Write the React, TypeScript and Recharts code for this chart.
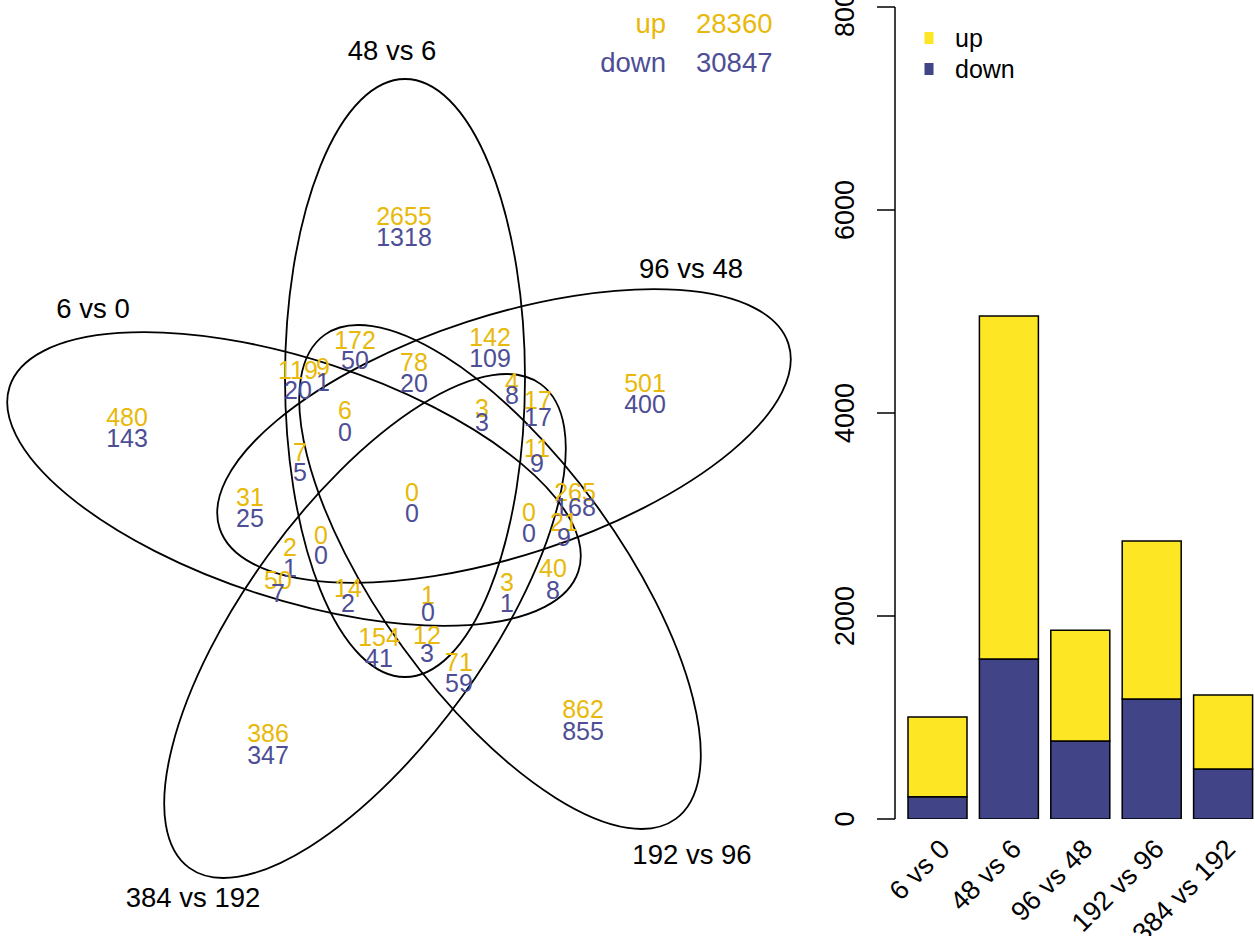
import { ScatterChart, Scatter, XAxis, YAxis, BarChart, Bar, Legend } from "recharts";

const FONT = "'Liberation Sans', Arial, Helvetica, sans-serif";
const GOLD = "#E8B90B";
const NAVY = "#4D4E95";
const BAR_UP = "#FDE725";
const BAR_DOWN = "#414487";

// bar chart values
const comparisons = ["6 vs 0", "48 vs 6", "96 vs 48", "192 vs 96", "384 vs 192"];
const upCounts = [785, 3380, 1091, 1557, 729];
const downCounts = [220, 1576, 768, 1182, 493];
const countTicks = [0, 2000, 4000, 6000, 8000];

// totals printed top right of the venn
const totalUp = 28360;
const totalDown = 30847;

// venn region counts (up / down), same order as regionPos below
const regionUp = [2655, 480, 501, 386, 862, 172, 78, 142, 119, 9, 4, 17, 6, 3, 7, 11, 0, 31, 265, 0, 21, 0, 2, 50, 14, 1, 3, 40, 154, 12, 71];
const regionDown = [1318, 143, 400, 347, 855, 50, 20, 109, 20, 1, 8, 17, 0, 3, 5, 9, 0, 25, 168, 0, 9, 0, 1, 7, 2, 0, 1, 8, 41, 3, 59];

// layout: [x, y of up label, y of down label]
const regionPos = [
  [404, 216, 237], [127, 417, 438], [645, 383, 404], [268, 733, 755], [583, 709, 731],
  [355, 340, 360], [414, 362, 383], [490, 337, 358], [298, 370, 390], [323, 367, 382],
  [512, 382, 395], [538, 400, 417], [345, 410, 432], [482, 408, 422], [300, 452, 472],
  [537, 448, 463], [412, 492, 513], [250, 497, 518], [575, 492, 507], [529, 512, 533],
  [564, 522, 537], [321, 535, 555], [290, 547, 568], [278, 580, 593], [348, 588, 603],
  [428, 595, 612], [507, 582, 603], [553, 568, 590], [379, 637, 658], [427, 635, 653],
  [459, 662, 683],
];

// layout: ellipse centre, rotation, and where the set name sits
const ellipseGeom: Record<string, { cx: number; cy: number; angle: number; lx: number; ly: number }> = {
  "6 vs 0": { cx: 294, cy: 479, angle: 18, lx: 93, ly: 308 },
  "48 vs 6": { cx: 405, cy: 378, angle: 90, lx: 392, ly: 50 },
  "96 vs 48": { cx: 504, cy: 436, angle: -18, lx: 691, ly: 268 },
  "192 vs 96": { cx: 500, cy: 577, angle: 54, lx: 692, ly: 854 },
  "384 vs 192": { cx: 365, cy: 626, angle: -54, lx: 193, ly: 897 },
};
const SEMI_MAJOR = 299;
const SEMI_MINOR = 120;

const ellipseData = comparisons.map((name) => ({ name, x: ellipseGeom[name].cx, y: ellipseGeom[name].cy, angle: ellipseGeom[name].angle }));
const setLabelData = comparisons.map((name) => ({ name, x: ellipseGeom[name].lx, y: ellipseGeom[name].ly }));
const regionData = regionUp.map((up, i) => ({ up, down: regionDown[i], x: regionPos[i][0], y: regionPos[i][1], gap: regionPos[i][2] - regionPos[i][1] }));
const totalsData = [
  { x: 666, y: 23, label: "up", value: totalUp, color: GOLD },
  { x: 666, y: 62, label: "down", value: totalDown, color: NAVY },
];

const barData = comparisons.map((name, i) => ({ name, up: upCounts[i], down: downCounts[i] }));

function EllipseShape(props: any) {
  const { cx, cy, payload } = props;
  return (
    <ellipse
      cx={cx}
      cy={cy}
      rx={SEMI_MAJOR}
      ry={SEMI_MINOR}
      transform={`rotate(${payload.angle} ${cx} ${cy})`}
      fill="none"
      stroke="#000"
      strokeWidth={1.8}
    />
  );
}

function RegionShape(props: any) {
  const { cx, cy, payload } = props;
  return (
    <g>
      <text x={cx} y={cy} dy="0.35em" textAnchor="middle" fill={GOLD} fontSize={25} fontFamily={FONT}>
        {payload.up}
      </text>
      <text x={cx} y={cy + payload.gap} dy="0.35em" textAnchor="middle" fill={NAVY} fontSize={25} fontFamily={FONT}>
        {payload.down}
      </text>
    </g>
  );
}

function SetLabelShape(props: any) {
  const { cx, cy, payload } = props;
  return (
    <text x={cx} y={cy} dy="0.35em" textAnchor="middle" fill="#000" fontSize={27.5} fontFamily={FONT}>
      {payload.name}
    </text>
  );
}

function TotalShape(props: any) {
  const { cx, cy, payload } = props;
  return (
    <g fill={payload.color} fontSize={27.5} fontFamily={FONT}>
      <text x={cx} y={cy} dy="0.35em" textAnchor="end">{payload.label}</text>
      <text x={cx + 30} y={cy} dy="0.35em" textAnchor="start">{payload.value}</text>
    </g>
  );
}

function XTick(props: any) {
  const { x, y, payload } = props;
  return (
    <text
      transform={`translate(${x + 7}, ${y + 25}) rotate(-45)`}
      textAnchor="end"
      dy="0.35em"
      fill="#000"
      fontSize={27}
      fontFamily={FONT}
    >
      {payload.value}
    </text>
  );
}

function YTick(props: any) {
  const { x, y, payload } = props;
  return (
    <text
      transform={`translate(${x - 30}, ${y}) rotate(-90)`}
      textAnchor="middle"
      dy="0.35em"
      fill="#000"
      fontSize={27}
      fontFamily={FONT}
    >
      {payload.value}
    </text>
  );
}

function LegendBox() {
  const items = [
    { label: "up", color: BAR_UP },
    { label: "down", color: BAR_DOWN },
  ];
  return (
    <svg width={140} height={70}>
      {items.map((it, i) => (
        <g key={it.label}>
          <rect x={1.5} y={8 + i * 31} width={9} height={12} fill={it.color} />
          <text x={32} y={14 + i * 31} dy="0.35em" fontSize={25} fontFamily={FONT} fill="#000">
            {it.label}
          </text>
        </g>
      ))}
    </svg>
  );
}

export default function App() {
  return (
    <div style={{ position: "relative", width: 1255, height: 936, overflow: "hidden", background: "#fff" }}>
      <style>{"body{margin:0}"}</style>
      <div style={{ position: "absolute", left: 0, top: 0 }}>
        <ScatterChart width={820} height={936} margin={{ top: 0, right: 0, bottom: 0, left: 0 }}>
          <XAxis type="number" dataKey="x" domain={[0, 820]} hide allowDataOverflow />
          <YAxis type="number" dataKey="y" domain={[0, 936]} reversed hide allowDataOverflow />
          <Scatter data={ellipseData} shape={(p: any) => <EllipseShape {...p} />} isAnimationActive={false} />
          <Scatter data={regionData} shape={(p: any) => <RegionShape {...p} />} isAnimationActive={false} />
          <Scatter data={setLabelData} shape={(p: any) => <SetLabelShape {...p} />} isAnimationActive={false} />
          <Scatter data={totalsData} shape={(p: any) => <TotalShape {...p} />} isAnimationActive={false} />
        </ScatterChart>
      </div>
      <div style={{ position: "absolute", left: 820, top: 0 }}>
        <BarChart
          width={439}
          height={936}
          data={barData}
          margin={{ top: 7, right: 0, bottom: 0, left: 0 }}
          barCategoryGap={6}
        >
          <XAxis
            dataKey="name"
            axisLine={false}
            tickLine={false}
            tickSize={0}
            tickMargin={0}
            height={117}
            padding={{ left: 7, right: 0 }}
            interval={0}
            tick={<XTick />}
          />
          <YAxis
            type="number"
            domain={[0, 8000]}
            ticks={countTicks}
            width={75}
            interval={0}
            allowDataOverflow
            axisLine={{ stroke: "#000", strokeWidth: 1.5 }}
            tickLine={{ stroke: "#000", strokeWidth: 1.5 }}
            tickSize={18}
            tick={<YTick />}
          />
          <Legend
            layout="vertical"
            align="center"
            verticalAlign="middle"
            wrapperStyle={{ left: 103, top: 24, width: 140, height: 70 }}
            content={() => <LegendBox />}
          />
          <Bar dataKey="down" stackId="s" fill={BAR_DOWN} stroke="#000" strokeWidth={1.5} isAnimationActive={false} />
          <Bar dataKey="up" stackId="s" fill={BAR_UP} stroke="#000" strokeWidth={1.5} isAnimationActive={false} />
        </BarChart>
      </div>
    </div>
  );
}
